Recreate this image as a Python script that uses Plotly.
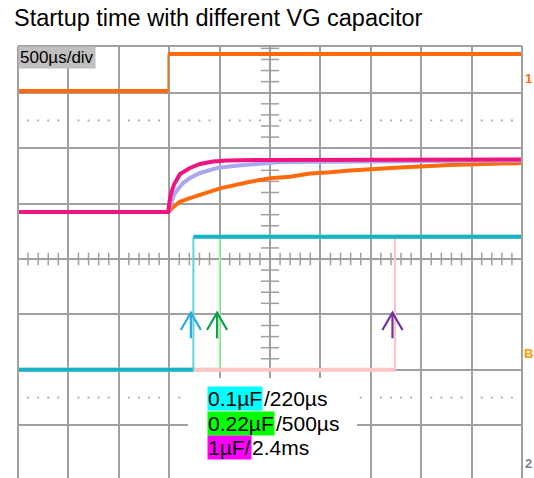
import plotly.graph_objects as go

# ---- scope settings ----
TIME_PER_DIV = 500          # µs/div
N_HDIV = 10
T_MAX = TIME_PER_DIV * N_HDIV
Y_RANGE = [-3.951, 3.843]   # visible vertical span, in divisions

# ---- channel 1: enable step (divisions) ----
en_edge_t = 1490
en_low, en_high = 3.03, 3.70

# ---- VG ramps for the three capacitor values (time µs, level div) ----
vg_fast_t = [0, 1490, 1505, 1518, 1548, 1607, 1706, 1806, 1935, 2073, 2401, 5000]
vg_fast_y = [0.848, 0.848, 1.060, 1.180, 1.345, 1.533, 1.642, 1.714, 1.759, 1.777, 1.786, 1.795]

vg_mid_t = [0, 1490, 1528, 1558, 1637, 1706, 1806, 1974, 2133, 2331, 2599, 5000]
vg_mid_y = [0.848, 0.848, 1.064, 1.191, 1.371, 1.461, 1.552, 1.642, 1.678, 1.714, 1.750, 1.777]

vg_slow_t = [0, 1490, 1528, 1607, 1706, 1806, 2004, 2302, 2500, 2698, 2897, 3095, 3294, 3790, 4286, 5000]
vg_slow_y = [0.848, 0.848, 0.920, 1.034, 1.100, 1.155, 1.275, 1.395, 1.456, 1.485, 1.543, 1.564,
             1.597, 1.651, 1.696, 1.732]

# ---- power-good outputs (edge time µs) ----
pg_names = ["0.1µF", "0.22µF", "1µF"]
pg_edges = [1740, 2000, 3740]
pg_low, pg_high = -2.0, 0.40

# ---- styles ----
ORANGE = "#ff6a0a"
PINK = "#f0157e"
LAVENDER = "#aaa6f2"
CYAN = "#15b3c4"
CYAN_EDGE = "#5fd2e0"
GREEN_EDGE = "#a6f2a6"
LPINK = "#ffc4c4"
GRID = "#a0a0a0"
ARROWS = ["#2aaae2", "#0fa04c", "#7030a0"]
HILITE = ["#00ffff", "#00ff00", "#ff00ff"]
legend_rest = ["/220µs", "/500µs", "2.4ms"]
legend_hi = ["0.1µF", "0.22µF", "1µF/"]

# page geometry
W, H = 534, 478
L, R, T, B = 18, 12, 46, 0
PW, PH = W - L - R, H - T - B


def px_x(px):
    return (px - L) / PW


def px_y(py):
    return (H - B - py) / PH


fig = go.Figure()


def seg(x, y, color, width):
    fig.add_trace(go.Scatter(x=x, y=y, mode="lines", line=dict(color=color, width=width),
                             hoverinfo="skip", showlegend=False))


# minor graticule: ticks on the centre axes and dotted rows at ±2.5 div
minor_t = [k * TIME_PER_DIV / 5 for k in range(1, N_HDIV * 5) if k % 5]
minor_y = [k * 0.2 for k in range(-19, 20) if k % 5]
fig.add_trace(go.Scatter(x=minor_t, y=[0] * len(minor_t), mode="markers",
                         marker=dict(symbol="line-ns", size=9, line=dict(color=GRID, width=1.5)),
                         hoverinfo="skip", showlegend=False))
fig.add_trace(go.Scatter(x=[T_MAX / 2] * len(minor_y), y=minor_y, mode="markers",
                         marker=dict(symbol="line-ew", size=13, line=dict(color=GRID, width=1.5)),
                         hoverinfo="skip", showlegend=False))
for lvl in (2.5, -2.5):
    fig.add_trace(go.Scatter(x=minor_t, y=[lvl] * len(minor_t), mode="markers",
                             marker=dict(symbol="square", size=2, color="#b0b0b0", line=dict(width=0)),
                             hoverinfo="skip", showlegend=False))

# channel 1 enable
seg([0, en_edge_t], [en_low, en_low], ORANGE, 4)
seg([en_edge_t, en_edge_t], [en_low, en_high], ORANGE, 1.5)
seg([en_edge_t, T_MAX], [en_high, en_high], ORANGE, 4)

# VG ramps
seg(vg_slow_t, vg_slow_y, ORANGE, 4)
seg(vg_mid_t, vg_mid_y, LAVENDER, 4)
seg(vg_fast_t, vg_fast_y, PINK, 4)

# power-good steps: green, then light pink, then cyan on top
order = [1, 2, 0]
edge_cols = {0: CYAN_EDGE, 1: GREEN_EDGE, 2: LPINK}
lvl_cols = {0: CYAN, 1: GREEN_EDGE, 2: LPINK}
for i in order:
    e = pg_edges[i]
    seg([0, e], [pg_low, pg_low], lvl_cols[i], 4)
    seg([e, e], [pg_low, pg_high], edge_cols[i], 2)
    seg([e, T_MAX], [pg_high, pg_high], lvl_cols[i], 4)

# arrows marking each edge
tip, wing_y, tail = -0.97, -1.28, -1.43
for i, e in enumerate(pg_edges):
    x0 = e - 25
    fig.add_trace(go.Scatter(
        x=[x0 - 100, x0, x0 + 100, None, x0, x0],
        y=[wing_y, tip, wing_y, None, tip, tail],
        mode="lines", line=dict(color=ARROWS[i], width=2.2),
        hoverinfo="skip", showlegend=False))

shapes = [
    # white panel behind the captions
    dict(type="rect", xref="paper", yref="paper", x0=px_x(188), x1=px_x(357),
         y0=px_y(478), y1=px_y(378), fillcolor="white", line=dict(width=0), layer="above"),
    # screen border
    dict(type="line", xref="paper", yref="paper", x0=0, x1=0, y0=0, y1=1,
         line=dict(color=GRID, width=2)),
    dict(type="line", xref="paper", yref="paper", x0=1, x1=1, y0=0, y1=1,
         line=dict(color=GRID, width=2)),
    dict(type="line", xref="paper", yref="paper", x0=0, x1=1, y0=1, y1=1,
         line=dict(color=GRID, width=2)),
]

FONT = "Liberation Sans, Arial, sans-serif"
annotations = [
    dict(text="Startup time with different VG capacitor", xref="paper", yref="paper",
         x=px_x(12), y=px_y(18), xanchor="left", yanchor="middle", showarrow=False,
         font=dict(family=FONT, size=23.5, color="black")),
    dict(text="500µs/div", xref="paper", yref="paper", x=0, y=1, xanchor="left", yanchor="top",
         showarrow=False, bgcolor="#c0c0c0", borderpad=1,
         font=dict(family=FONT, size=17, color="black")),
    dict(text="<b>1</b>", xref="paper", yref="paper", x=px_x(528), y=px_y(78), xanchor="center",
         yanchor="middle", showarrow=False, font=dict(family=FONT, size=13, color=ORANGE)),
    dict(text="<b>B</b>", xref="paper", yref="paper", x=px_x(528), y=px_y(353), xanchor="center",
         yanchor="middle", showarrow=False, font=dict(family=FONT, size=13, color="#ff9900")),
    dict(text="<b>2</b>", xref="paper", yref="paper", x=px_x(528), y=px_y(463), xanchor="center",
         yanchor="middle", showarrow=False, font=dict(family=FONT, size=13, color="#8080a0")),
]
hi_widths = [56, 68, 44]
for i in range(3):
    cy = 398.5 + 24.5 * i
    annotations.append(dict(text=legend_hi[i], xref="paper", yref="paper", x=px_x(207), y=px_y(cy),
                            xanchor="left", yanchor="middle", showarrow=False, bgcolor=HILITE[i],
                            borderpad=0, font=dict(family=FONT, size=21, color="black")))
    annotations.append(dict(text=legend_rest[i], xref="paper", yref="paper",
                            x=px_x(207 + hi_widths[i]), y=px_y(cy), xanchor="left", yanchor="middle",
                            showarrow=False, borderpad=0,
                            font=dict(family=FONT, size=21, color="black")))

fig.update_layout(
    width=W, height=H, margin=dict(l=L, r=R, t=T, b=B, pad=0),
    paper_bgcolor="white", plot_bgcolor="white",
    shapes=shapes, annotations=annotations, showlegend=False,
    xaxis=dict(range=[0, T_MAX], tick0=0, dtick=TIME_PER_DIV, showgrid=True, gridcolor=GRID,
               gridwidth=2, zeroline=False, showticklabels=False, ticks="", fixedrange=True),
    yaxis=dict(range=Y_RANGE, tick0=0, dtick=1, showgrid=True, gridcolor=GRID, gridwidth=2,
               zeroline=False, showticklabels=False, ticks="", fixedrange=True),
)

fig.write_html("out.html", config={"displayModeBar": False})
